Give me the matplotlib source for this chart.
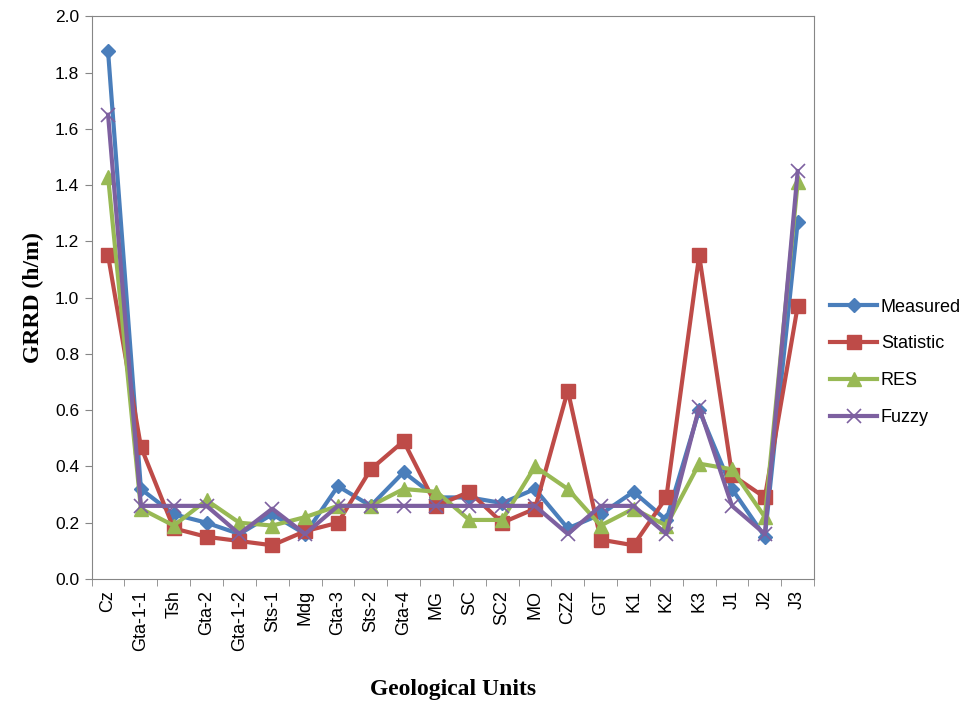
import matplotlib.pyplot as plt
import numpy as np

units = ["Cz", "Gta-1-1", "Tsh", "Gta-2", "Gta-1-2", "Sts-1", "Mdg", "Gta-3", "Sts-2", "Gta-4", "MG",
         "SC", "SC2", "MO", "CZ2", "GT", "K1", "K2", "K3", "J1", "J2", "J3"]
measured = [1.875, 0.32, 0.23, 0.20, 0.16, 0.23, 0.16, 0.33, 0.26, 0.38, 0.29,
            0.29, 0.27, 0.32, 0.18, 0.23, 0.31, 0.21, 0.60, 0.32, 0.15, 1.27]
statistic = [1.15, 0.47, 0.18, 0.15, 0.135, 0.12, 0.17, 0.20, 0.39, 0.49, 0.26,
             0.31, 0.20, 0.25, 0.67, 0.14, 0.12, 0.29, 1.15, 0.37, 0.29, 0.97]
res = [1.43, 0.25, 0.19, 0.28, 0.20, 0.19, 0.22, 0.26, 0.26, 0.32, 0.31,
       0.21, 0.21, 0.40, 0.32, 0.19, 0.25, 0.19, 0.41, 0.39, 0.22, 1.41]
fuzzy = [1.65, 0.26, 0.26, 0.26, 0.16, 0.25, 0.16, 0.26, 0.26, 0.26, 0.26,
         0.26, 0.26, 0.26, 0.16, 0.26, 0.26, 0.16, 0.61, 0.26, 0.16, 1.45]

fig = plt.figure(figsize=(9.75, 7.07), dpi=100)
ax = fig.add_axes([0.094, 0.181, 0.741, 0.796])

x = np.arange(len(units))
ax.plot(x, measured, color="#4A7EBB", lw=3, marker="D", ms=7.5, label="Measured")
ax.plot(x, statistic, color="#BE4B48", lw=3, marker="s", ms=9.5, label="Statistic")
ax.plot(x, res, color="#98B954", lw=3, marker="^", ms=9.5, label="RES")
ax.plot(x, fuzzy, color="#7D60A0", lw=3, marker="x", ms=10, mew=1.2, label="Fuzzy")

ax.set_xlim(-0.5, len(units) - 0.5)
ax.set_ylim(0, 2.0)
ax.set_yticks(np.arange(0, 2.01, 0.2))
ax.set_yticklabels([f"{v:.1f}" for v in np.arange(0, 2.01, 0.2)], family="Liberation Sans", fontsize=12.5)
ax.set_xticks(x)
ax.set_xticklabels(units, rotation=90, family="Liberation Sans", fontsize=13)
ax.set_xticks(np.arange(-0.5, len(units)), minor=True)
ax.tick_params(axis="x", which="major", length=0, pad=8)
ax.tick_params(axis="x", which="minor", length=5, color="#868686")
ax.tick_params(axis="y", length=5, color="#868686", pad=4)

for s in ax.spines.values():
    s.set_color("#868686")

ax.set_ylabel("GRRD (h/m)", family="Liberation Serif", fontweight="bold", fontsize=17, labelpad=8)
ax.set_xlabel("Geological Units", family="Liberation Serif", fontweight="bold", fontsize=17, labelpad=20)

ax.legend(loc="center left", bbox_to_anchor=(1.0, 0.385), frameon=False,
          prop={"family": "Liberation Sans", "size": 13}, handlelength=2.6,
          handletextpad=0.2, labelspacing=1.1)

fig.savefig("out.png", dpi=100)
